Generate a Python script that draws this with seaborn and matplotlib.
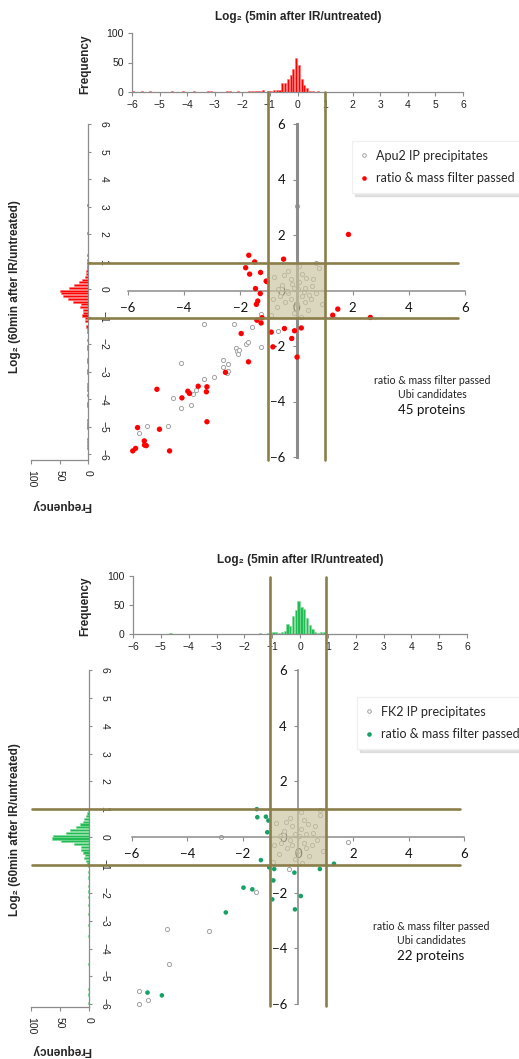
import numpy as np
import matplotlib
matplotlib.use('Agg')
import matplotlib.pyplot as plt
import matplotlib.transforms as mtransforms
from matplotlib.lines import Line2D
from matplotlib.patches import Rectangle
import seaborn as sns

W, H = 519, 1059

# ---------------- panel 1 : Apu2 IP ----------------
apu_top_bins = [-5.95, -5.65, -5.35, -4.55, -4.15, -3.75, -3.25, -3.15, -2.55, -2.45, -2.15,
                -1.75, -1.65, -1.55, -1.45, -1.35, -1.25, -1.05, -0.95, -0.85, -0.75, -0.65,
                -0.55, -0.45, -0.35, -0.25, -0.15, -0.05, 0.05, 0.15, 0.25, 0.35, 0.45, 0.55, 0.75]
apu_top_counts = [1, 1, 1, 1, 1, 1, 1, 1, 1, 2, 1,
                  1, 1, 1, 2, 2, 4, 1, 2, 4, 4, 4,
                  15, 15, 22, 29, 39, 58, 46, 22, 12, 6, 2, 2, 1]

apu_left_bins = [3.05, 2.05, 1.25, 1.05, 0.95, 0.85, 0.75, 0.65, 0.55, 0.45, 0.35, 0.25, 0.15, 0.05,
                 -0.05, -0.15, -0.25, -0.35, -0.45, -0.55, -0.65, -0.75, -0.85, -0.95, -1.05, -1.15,
                 -1.35, -1.45, -1.55, -1.85, -2.05, -2.15, -2.55, -2.65, -2.95, -3.05, -3.45, -3.55,
                 -3.65, -3.85, -4.15, -4.25, -4.75, -4.85, -4.95, -5.05, -5.45, -5.55, -5.65, -5.75]
apu_left_counts = [1, 1, 1, 1, 1, 2, 2, 3, 3, 6, 10, 16, 24, 34,
                   50, 48, 44, 35, 26, 12, 14, 9, 8, 10, 6, 5,
                   3, 2, 2, 1, 2, 1, 2, 1, 2, 1, 2, 2,
                   2, 2, 1, 1, 1, 1, 1, 1, 1, 2, 1, 2]

apu_gray_x = [-3.31, -2.21, -2.17, -2.12, -2.10, -1.79, -1.73, -1.59, -4.13, -2.60, -2.62, -2.45,
              -2.48, -2.43, -2.93, -3.31, -3.59, -3.69, -4.40, -3.77, -4.13, -5.31, -4.56, -5.61,
              0.70, 0.00, -1.28, -1.26, -0.66, -2.03,
              -0.10, 0.20, -0.30, 0.10, -0.20, 0.30, -0.50, 0.50, -0.40, 0.00, 0.20, -0.60, 0.60,
              -0.10, 0.40, -0.80, 0.70, -0.70, 0.10, -0.30, 0.80, -0.90, 0.30, -0.20, 0.05, -0.45,
              0.55, -0.65, 0.15, 0.90, -0.85, 0.35, -0.15, 0.25, -0.35, 0.45]
apu_gray_y = [-1.21, -1.19, -2.07, -2.19, -2.30, -1.91, -1.85, -1.31, -2.61, -2.52, -2.75, -2.64,
              -2.99, -2.90, -3.10, -3.20, -3.57, -3.74, -3.86, -4.13, -4.22, -4.88, -4.87, -5.12,
              1.00, 3.04, -0.83, -2.05, -1.47, -2.16,
              0.10, -0.20, -0.10, 0.30, 0.40, 0.10, 0.20, -0.30, -0.40, -0.50, 0.60, -0.20, 0.40,
              -0.80, -0.70, 0.50, -0.10, -0.60, 0.90, 0.70, 0.80, -0.90, -0.40, -0.30, 0.05, 0.55,
              0.15, 0.05, -0.95, -0.50, -0.30, 0.45, 0.25, -0.05, 0.00, -0.15]

apu_hit_x = [-1.70, -1.81, -1.67, -1.46, -1.43, -1.38, -1.41, -1.49, -1.28, -1.08, -1.05, -1.29,
             -1.23, -1.26, -0.46, 1.85, 1.29, 1.47, 2.63, 0.17, -0.43, -1.97, -1.71, -0.90,
             -0.07, -0.17, -0.84, 0.02, -2.53, -3.50, -3.19, -3.87, -3.81, -3.21, -4.08, -4.97,
             -3.19, -4.88, -5.66, -5.42, -5.41, -5.35, -5.73, -5.83, -4.52]
apu_hit_y = [1.27, 0.82, 0.59, 0.07, -0.50, -0.38, -1.07, 1.03, 0.65, 0.34, 0.32, -0.11,
             -0.98, -1.17, 1.13, 2.02, -0.89, -0.67, -0.97, -1.35, -1.37, -1.55, -2.57, -1.50,
             -1.45, -1.73, -2.03, -2.40, -2.95, -3.45, -3.47, -3.63, -3.71, -3.65, -3.87, -3.56,
             -4.73, -5.00, -4.94, -5.42, -5.57, -5.59, -5.69, -5.78, -5.78]

# ---------------- panel 2 : FK2 IP ----------------
fk_top_bins = [-4.65, -1.45, -1.15, -1.05, -0.95, -0.85, -0.75, -0.65, -0.55, -0.45, -0.35,
               -0.25, -0.15, -0.05, 0.05, 0.15, 0.25, 0.35, 0.45, 0.55, 0.65, 0.75, 0.85]
fk_top_counts = [1, 1, 1, 2, 3, 3, 2, 3, 5, 18, 14,
                 31, 42, 57, 47, 43, 27, 16, 8, 4, 2, 3, 3]

fk_left_bins = [0.95, 0.85, 0.75, 0.65, 0.55, 0.45, 0.35, 0.25, 0.15, 0.05, -0.05, -0.15, -0.25,
                -0.35, -0.45, -0.55, -0.65, -0.75, -0.85, -0.95, -1.05, -1.25, -1.45, -1.75,
                -1.95, -2.15, -2.45, -2.75, -3.15, -3.55, -4.55, -5.45, -5.65, -5.95]
fk_left_counts = [2, 3, 6, 8, 10, 15, 23, 32, 40, 62, 64, 48, 26,
                  14, 13, 11, 7, 9, 5, 4, 2, 1, 1, 1,
                  2, 1, 1, 1, 1, 1, 1, 2, 1, 1]

fk_gray_x = [-1.52, -4.74, -3.21, -4.66, -5.73, -5.43, -5.73, 1.79, 0.79, -2.78, -0.31,
             -0.10, 0.20, -0.30, 0.10, -0.20, 0.30, -0.50, 0.50, -0.40, 0.00, 0.20, -0.60, 0.60,
             -0.10, 0.40, -0.80, 0.70, -0.70, 0.10, -0.30, 0.80, -0.90, 0.30, -0.20, 0.05, -0.45,
             0.55, -0.65, 0.15, 0.90, -0.85, 0.35]
fk_gray_y = [-1.97, -3.29, -3.37, -4.57, -5.54, -5.86, -6.00, -0.17, 0.97, 0.00, -1.16,
             0.10, -0.20, -0.10, 0.30, 0.40, 0.10, 0.20, -0.30, -0.40, -0.50, 0.60, -0.20, 0.40,
             -0.80, -0.70, 0.50, -0.10, -0.60, 0.90, 0.70, 0.80, -0.90, -0.40, -0.30, 0.05, 0.55,
             0.15, 0.05, -0.95, -0.50, -0.30, 0.45]

fk_hit_x = [-1.49, -1.47, -1.16, -1.07, -1.11, -1.34, 1.30, 0.79, -0.86, -0.13, -0.89, -1.97,
            -1.65, -0.93, 0.10, -0.11, -1.04, -2.61, -5.44, -4.92]
fk_hit_y = [1.00, 0.71, 0.73, 0.59, 0.17, -0.83, -0.96, -1.15, -1.15, -1.28, -1.56, -1.82,
            -1.88, -2.24, -2.12, -2.60, -1.09, -2.71, -5.59, -5.69]

TITLE = 'Log\u2082 (5min after IR/untreated)'
YTITLE = 'Log\u2082 (60min after IR/untreated)'
GOLD = '#8b7e4b'
SPINE = '#8c8c8c'

sns.set_theme(style='white')
plt.rcParams['font.family'] = ['Liberation Sans', 'DejaVu Sans']

fig = plt.figure(figsize=(W / 100, H / 100), dpi=100)


def fbox(l, t, r, b):
    return [l / W, 1 - b / H, (r - l) / W, (b - t) / H]


def fy(py):
    return 1 - py / H


def draw_panel(lay, top_c, top_n, left_c, left_n, gx, gy, hx, hy,
               hist_col, hist_edge, hit_col, leg_label, n_prot, yspine_w):
    # top histogram
    ax_t = fig.add_axes(fbox(*lay['top']))
    ax_t.set_facecolor('none')
    sns.histplot(x=top_c, weights=top_n, binwidth=0.1, binrange=(-6, 6), shrink=0.8,
                 color=hist_col, edgecolor=hist_edge, linewidth=0.4, alpha=1, ax=ax_t)
    ax_t.set_xlim(-6, 6)
    ax_t.set_ylim(0, 100)
    ax_t.set_xticks(range(-6, 7))
    ax_t.set_yticks([0, 50, 100])
    ax_t.set_xlabel('')
    ax_t.set_ylabel('')
    for s in ['top', 'right']:
        ax_t.spines[s].set_visible(False)
    for s in ['left', 'bottom']:
        ax_t.spines[s].set_color(SPINE)
        ax_t.spines[s].set_linewidth(0.9)
    ax_t.tick_params(axis='both', length=3, width=0.8, color=SPINE, labelsize=7.5, pad=3,
                     bottom=True, left=True, labelcolor='#222222')

    # left (rotated) histogram
    ax_l = fig.add_axes(fbox(*lay['left']))
    ax_l.set_facecolor('none')
    sns.histplot(y=left_c, weights=left_n, binwidth=0.1, binrange=(-6, 6), shrink=0.8,
                 color=hist_col, edgecolor=hist_edge, linewidth=0.4, alpha=1, ax=ax_l)
    ax_l.set_xlim(100, 0)
    ax_l.set_ylim(lay['left_ymin'], 6)
    ax_l.set_xticks([100, 50, 0])
    ax_l.set_yticks(range(-6, 7))
    ax_l.set_xlabel('')
    ax_l.set_ylabel('')
    for s in ['top', 'left']:
        ax_l.spines[s].set_visible(False)
    for s in ['right', 'bottom']:
        ax_l.spines[s].set_color(SPINE)
        ax_l.spines[s].set_linewidth(0.9)
    ax_l.yaxis.tick_right()
    ax_l.tick_params(axis='y', length=2.5, width=0.8, color=SPINE, labelsize=7.5, pad=5,
                     right=True, labelrotation=-90, labelcolor='#222222')
    ax_l.tick_params(axis='x', length=3, width=0.8, color=SPINE, labelsize=7.5, pad=4,
                     bottom=True, labelrotation=-90, labelcolor='#222222')
    for lbl in ax_l.get_yticklabels():
        lbl.set_va('center')

    # scatter
    ax_s = fig.add_axes(fbox(*lay['scat']))
    ax_s.set_facecolor('none')
    sns.scatterplot(x=gx, y=gy, ax=ax_s, marker='o', s=9, color='white',
                    edgecolor='#a3a3a3', linewidth=0.7, zorder=2, clip_on=False, legend=False)
    sns.scatterplot(x=hx, y=hy, ax=ax_s, marker='o', s=lay['hit_s'], color=hit_col,
                    edgecolor='none', zorder=5, clip_on=False, legend=False)
    ax_s.set_xlim(-6, 6)
    ax_s.set_ylim(-6, 6)
    ax_s.set_xlabel('')
    ax_s.set_ylabel('')
    ax_s.spines['left'].set_position(('data', 0))
    ax_s.spines['bottom'].set_position(('data', 0))
    ax_s.spines['top'].set_visible(False)
    ax_s.spines['right'].set_visible(False)
    ax_s.spines['left'].set_color(SPINE)
    ax_s.spines['bottom'].set_color(SPINE)
    ax_s.spines['left'].set_linewidth(yspine_w)
    ax_s.spines['bottom'].set_linewidth(1.1)
    ax_s.set_xticks([-6, -4, -2, 0, 2, 4, 6])
    ax_s.set_yticks([-6, -4, -2, 0, 2, 4, 6])
    ax_s.tick_params(axis='both', length=3, width=0.8, color=SPINE, labelsize=9.5,
                     labelfontfamily='Lato', labelcolor='#111111', pad=5,
                     bottom=True, left=True)
    ax_s.add_patch(Rectangle((-1, -1), 2, 2, facecolor='#cbc3a0', alpha=0.68,
                             edgecolor='none', zorder=4))

    # threshold lines at +-1
    tv = mtransforms.blended_transform_factory(ax_s.transData, fig.transFigure)
    th = mtransforms.blended_transform_factory(fig.transFigure, ax_s.transData)
    for v in [-1, 1]:
        ax_s.add_line(Line2D([v, v], [fy(lay['vline'][1]), fy(lay['vline'][0])], transform=tv,
                             color=GOLD, lw=1.9, zorder=6, clip_on=False))
        ax_s.add_line(Line2D([lay['hline'][0] / W, lay['hline'][1] / W], [v, v], transform=th,
                             color=GOLD, lw=1.9, zorder=6, clip_on=False))

    # legend
    handles = [Line2D([], [], marker='o', ls='', markersize=2.6, markerfacecolor='white',
                      markeredgecolor='#a3a3a3', markeredgewidth=0.7),
               Line2D([], [], marker='o', ls='', markersize=3.3, markerfacecolor=hit_col,
                      markeredgecolor='none')]
    leg = ax_s.legend(handles, [leg_label, 'ratio & mass filter passed'], loc='upper left',
                      bbox_to_anchor=(lay['legend'][0] / W, fy(lay['legend'][1])),
                      bbox_transform=fig.transFigure, borderaxespad=0, frameon=True,
                      fancybox=False, shadow={'color': '#c8c8c8', 'alpha': 0.5},
                      edgecolor='#f0f0f0', facecolor='white', framealpha=1,
                      prop={'family': 'Lato', 'size': 9}, handlelength=0.5,
                      handletextpad=0.7, labelspacing=0.85, borderpad=0.7)
    leg.set_zorder(7)

    # texts
    fig.text(lay['title'][0] / W, fy(lay['title'][1]), TITLE, ha='center', va='center',
             fontsize=8.5, fontweight='bold')
    fig.text(lay['freq'][0] / W, fy(lay['freq'][1]), 'Frequency', rotation=90,
             ha='center', va='center', fontsize=8.5, fontweight='bold')
    fig.text(15 / W, fy(lay['ytitle']), YTITLE, rotation=90, ha='center', va='center',
             fontsize=8.5, fontweight='bold')
    fig.text(61 / W, fy(lay['freq2']), 'Frequency', rotation=180, ha='center', va='center',
             fontsize=8.5, fontweight='bold')
    cx, cy = lay['note']
    fig.text(cx / W, fy(cy), 'ratio & mass filter passed', ha='center', va='center',
             fontsize=7.6, family='Lato', color='#222222')
    fig.text(cx / W, fy(cy + 14), 'Ubi candidates', ha='center', va='center',
             fontsize=7.6, family='Lato', color='#222222')
    fig.text(cx / W, fy(cy + 29), f'{n_prot} proteins', ha='center', va='center',
             fontsize=9.6, family='Lato', color='#111111')


lay1 = dict(top=(132, 33, 463, 92), scat=(128, 124, 465, 457), left=(31, 124, 88, 460),
            left_ymin=-6.2, vline=(92, 460), hline=(88, 458), legend=(352, 141),
            title=(298, 17), freq=(85, 64), ytitle=(287), freq2=505, note=(432, 381), hit_s=15)
lay2 = dict(top=(133, 576, 467, 634), scat=(132, 670, 464, 1004), left=(31, 670, 89, 1007),
            left_ymin=-6.1, vline=(577, 1006), hline=(32, 460), legend=(357, 697),
            title=(300, 560), freq=(85, 606), ytitle=(830), freq2=1050, note=(431, 927), hit_s=11)

draw_panel(lay1, apu_top_bins, apu_top_counts, apu_left_bins, apu_left_counts,
           apu_gray_x, apu_gray_y, apu_hit_x, apu_hit_y,
           '#ff0000', '#ff7070', '#ff0000', 'Apu2 IP precipitates', 45, 2.2)
draw_panel(lay2, fk_top_bins, fk_top_counts, fk_left_bins, fk_left_counts,
           fk_gray_x, fk_gray_y, fk_hit_x, fk_hit_y,
           '#22bb55', '#7ddc97', '#17a166', 'FK2 IP precipitates', 22, 1.2)

fig.savefig('out.png', dpi=100, facecolor='white')
